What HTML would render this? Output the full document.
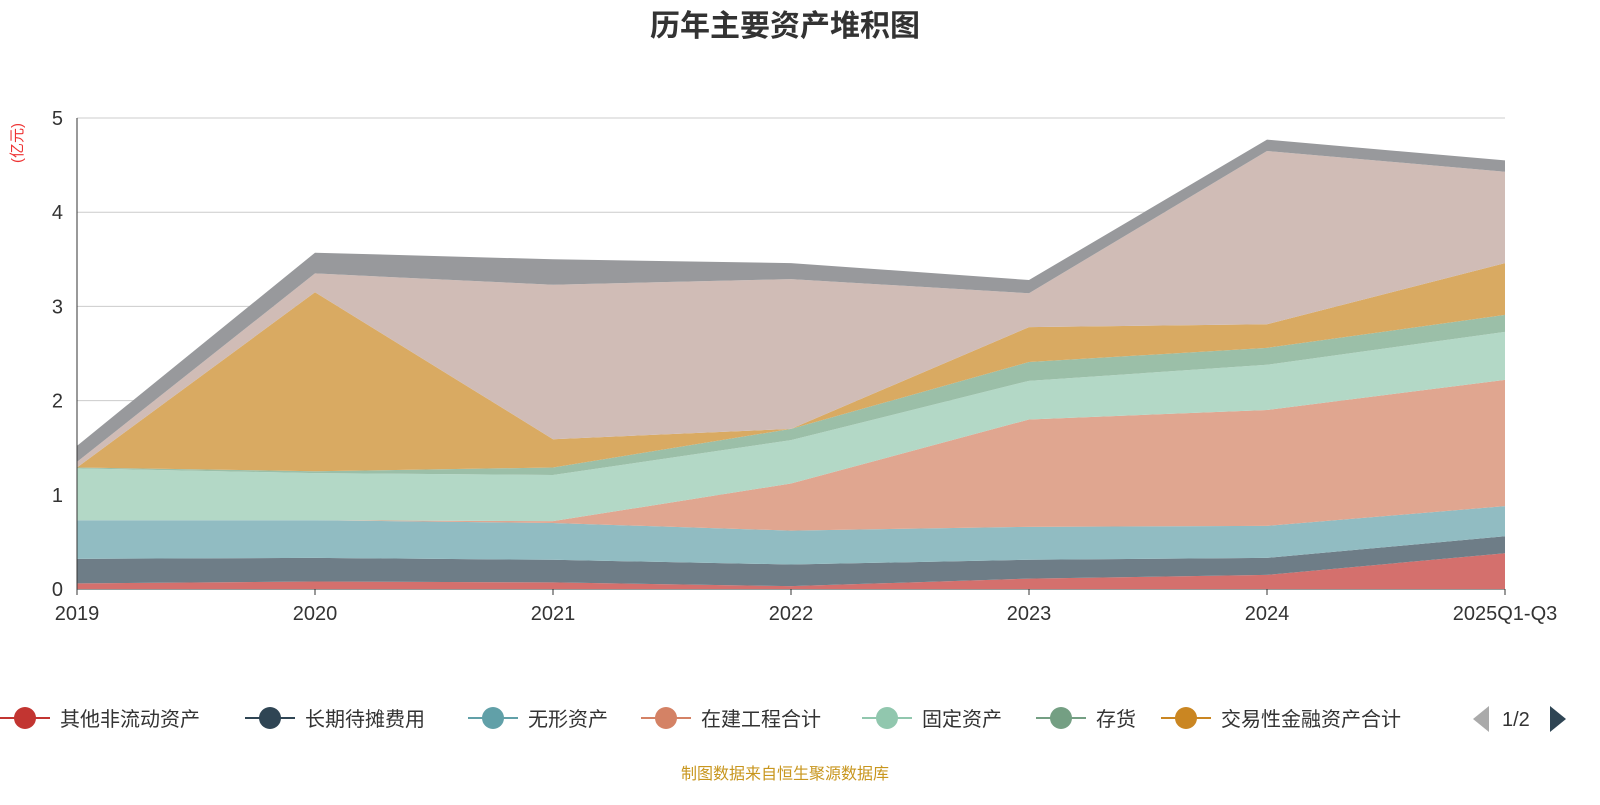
<!DOCTYPE html>
<html><head><meta charset="utf-8">
<style>
body{margin:0;background:#fff;font-family:"Liberation Sans","Noto Sans CJK SC",sans-serif;}
svg text{font-family:"Liberation Sans","Noto Sans CJK SC",sans-serif;}
</style></head>
<body>
<svg id="chart" width="1600" height="800" xmlns="http://www.w3.org/2000/svg">
<text x="785" y="36" text-anchor="middle" font-size="30" font-weight="bold" fill="#333">历年主要资产堆积图</text>
<text transform="translate(22,143) rotate(-90)" text-anchor="middle" font-size="15" fill="#e33">(亿元)</text>
<g id="grid"></g>
<g id="areas"></g>
<g id="axes"></g>
<g id="legend"></g>
<text x="785" y="779" text-anchor="middle" font-size="16" fill="#c8961e">制图数据来自恒生聚源数据库</text>
</svg>
<script>
const categories = ["2019","2020","2021","2022","2023","2024","2025Q1-Q3"];
const yTicks = [0,1,2,3,4,5];
const seriesNames = ["其他非流动资产","长期待摊费用","无形资产","在建工程合计","固定资产","存货","交易性金融资产合计","其他资产","其他"];
const s1 = [0.06,0.08,0.07,0.03,0.11,0.15,0.38];
const s2 = [0.26,0.25,0.24,0.23,0.20,0.18,0.18];
const s3 = [0.41,0.40,0.39,0.36,0.35,0.34,0.32];
const s4 = [0.00,0.00,0.02,0.50,1.14,1.23,1.34];
const s5 = [0.55,0.50,0.49,0.46,0.41,0.48,0.51];
const s6 = [0.01,0.02,0.08,0.12,0.20,0.18,0.18];
const s7 = [0.00,1.90,0.30,0.00,0.37,0.25,0.55];
const s8 = [0.06,0.20,1.64,1.59,0.36,1.84,0.97];
const s9 = [0.17,0.22,0.27,0.17,0.14,0.12,0.12];
const seriesValues = [s1,s2,s3,s4,s5,s6,s7,s8,s9];
const lineColors = ["#c23531","#2f4554","#61a0a8","#d48265","#91c7ae","#749f83","#ca8622","#bda29a","#6e7074"];
const fillColors = ["#d4706d","#6e7d87","#91bcc2","#e0a690","#b3d8c6","#9bbfa8","#d9aa62","#d0bcb6","#98999c"];

const NS="http://www.w3.org/2000/svg";
const X0=77,X1=1505,Y0=589,Y5=118;
const xs=i=>X0+(X1-X0)*i/(categories.length-1);
const ys=v=>Y0-(Y0-Y5)*v/5;
function mk(tag,attrs,parent){const e=document.createElementNS(NS,tag);for(const k in attrs)e.setAttribute(k,attrs[k]);parent.appendChild(e);return e;}
const grid=document.getElementById('grid'),areas=document.getElementById('areas'),axes=document.getElementById('axes'),legend=document.getElementById('legend');

yTicks.forEach(t=>{
  const l=mk('line',{x1:X0,x2:X1,y1:ys(t),y2:ys(t),stroke:t===0?'#333':'#ccc','stroke-width':1},grid);
  
  
  const tx=mk('text',{x:X0-14,y:ys(t)+7,'text-anchor':'end','font-size':20,fill:'#333'},axes);
  tx.textContent=t;
  
  
});
mk('line',{x1:X0,x2:X0,y1:Y5,y2:Y0,stroke:'#333'},axes);
categories.forEach((c,i)=>{
  mk('line',{x1:xs(i),x2:xs(i),y1:Y0,y2:Y0+6,stroke:'#333'},axes);
  const tx=mk('text',{x:xs(i),y:Y0+31,'text-anchor':'middle','font-size':20,fill:'#333'},axes);
  tx.textContent=c;
  
  
});

let base=categories.map(()=>0);
seriesValues.forEach((vals,si)=>{
  const top=base.map((b,i)=>b+vals[i]);
  let pts=top.map((v,i)=>xs(i)+','+ys(v));
  for(let i=base.length-1;i>=0;i--)pts.push(xs(i)+','+ys(base[i]));
  const p=mk('polygon',{points:pts.join(' '),fill:fillColors[si]},areas);
  
  
  base=top;
});

const legendItems=[[10,"其他非流动资产"],[255,"长期待摊费用"],[478,"无形资产"],[651,"在建工程合计"],[872,"固定资产"],[1046,"存货"],[1171,"交易性金融资产合计"]];
legendItems.forEach((it,i)=>{
  const g=mk('g',{},legend);
  
  
  mk('line',{x1:it[0]-10,x2:it[0]+40,y1:718,y2:718,stroke:lineColors[i],'stroke-width':2},g);
  mk('circle',{cx:it[0]+15,cy:718,r:11,fill:lineColors[i]},g);
  const t=mk('text',{x:it[0]+50,y:726,'font-size':20,fill:'#333'},g);
  t.textContent=it[1];
});
const pg=mk('g',{},legend);


mk('polygon',{points:'1489,706 1489,732 1473,719',fill:'#aaa'},pg);
const pt=mk('text',{x:1502,y:726,'font-size':20,fill:'#333'},pg);pt.textContent='1/2';
mk('polygon',{points:'1550,706 1550,732 1566,719',fill:'#2f4554'},pg);
</script>
</body></html>
